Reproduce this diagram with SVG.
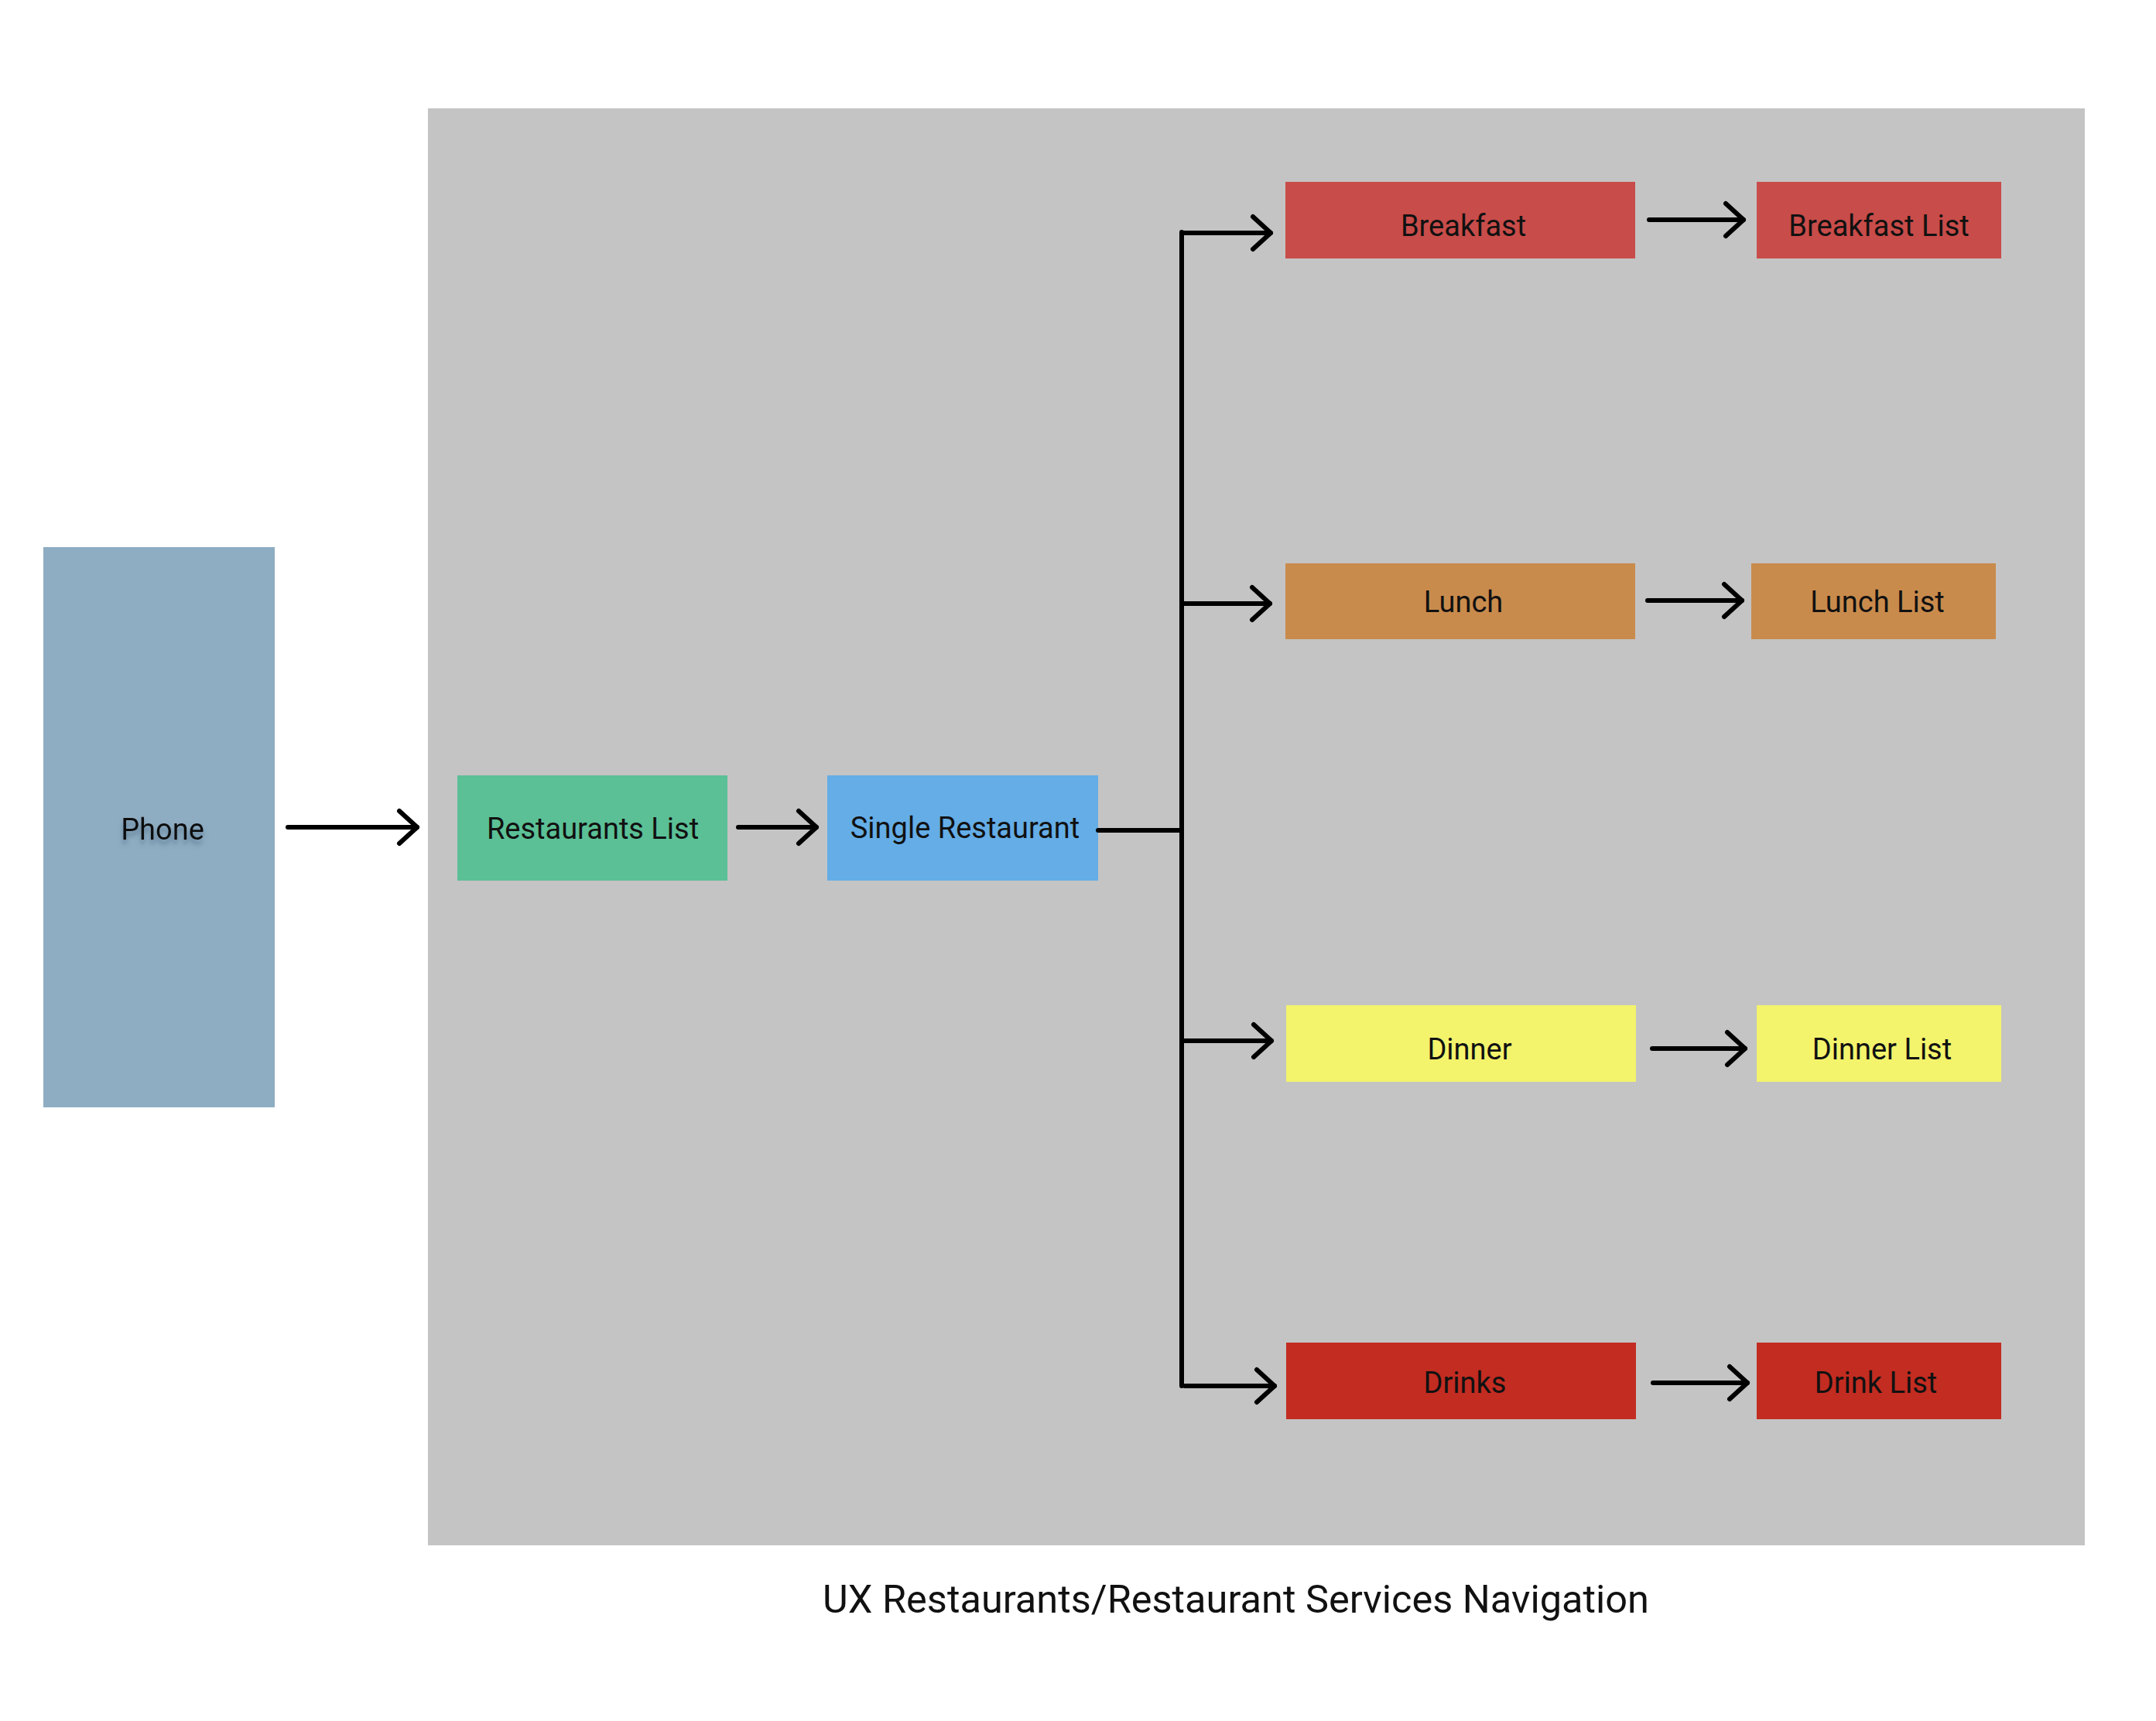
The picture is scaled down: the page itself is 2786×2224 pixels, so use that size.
<svg xmlns="http://www.w3.org/2000/svg" width="2786" height="2224" viewBox="0 0 2786 2224">
<style>
.lbl{font-family:Roboto,"Liberation Sans",sans-serif;font-size:38px;fill:#111;text-anchor:middle}
.title{font-family:Roboto,"Liberation Sans",sans-serif;font-size:50.5px;fill:#111;text-anchor:middle}
.ln{fill:none;stroke:#000;stroke-width:6;stroke-linecap:round;stroke-linejoin:round}
.ar{marker-end:url(#chev)}
</style>
<defs>
<marker id="chev" markerUnits="userSpaceOnUse" markerWidth="60" markerHeight="60" viewBox="-30 -30 60 60" refX="0" refY="0" orient="auto" overflow="visible">
<path d="M-23,-21 L0,0 L-23,21" fill="none" stroke="#000" stroke-width="6" stroke-linecap="round" stroke-linejoin="round"/>
</marker>
<filter id="tsh" x="-20%" y="-20%" width="140%" height="160%">
<feGaussianBlur in="SourceAlpha" stdDeviation="3"/>
<feOffset dx="0" dy="6" result="b"/>
<feFlood flood-color="#3a5a78" flood-opacity="0.6"/>
<feComposite in2="b" operator="in" result="s"/>
<feMerge><feMergeNode in="s"/><feMergeNode in="SourceGraphic"/></feMerge>
</filter>
</defs>
<rect width="2786" height="2224" fill="#ffffff"/>
<g id="panel"><rect x="553" y="140" width="2141" height="1857" fill="#c4c4c4"/></g>
<g id="phone"><rect x="56" y="707" width="299" height="724" fill="#8fadc2"/><text class="lbl" x="210" y="1085" filter="url(#tsh)">Phone</text></g>
<g id="restaurants-list"><rect x="591" y="1002" width="349" height="136" fill="#5bc096"/><text class="lbl" x="766" y="1084">Restaurants List</text></g>
<g id="single-restaurant"><rect x="1069" y="1002" width="350" height="136" fill="#64ade6"/><text class="lbl" x="1247" y="1083">Single Restaurant</text></g>
<g id="breakfast"><rect x="1661" y="235" width="452" height="99" fill="#c84c49"/><text class="lbl" x="1891" y="305">Breakfast</text></g>
<g id="breakfast-list"><rect x="2270" y="235" width="316" height="99" fill="#c84c49"/><text class="lbl" x="2428" y="305">Breakfast List</text></g>
<g id="lunch"><rect x="1661" y="728" width="452" height="98" fill="#c98b4c"/><text class="lbl" x="1891" y="791">Lunch</text></g>
<g id="lunch-list"><rect x="2263" y="728" width="316" height="98" fill="#c98b4c"/><text class="lbl" x="2426" y="791">Lunch List</text></g>
<g id="dinner"><rect x="1662" y="1299" width="452" height="99" fill="#f3f36c"/><text class="lbl" x="1899" y="1369">Dinner</text></g>
<g id="dinner-list"><rect x="2270" y="1299" width="316" height="99" fill="#f3f36c"/><text class="lbl" x="2432" y="1369">Dinner List</text></g>
<g id="drinks"><rect x="1662" y="1735" width="452" height="99" fill="#c22c21"/><text class="lbl" x="1893" y="1800">Drinks</text></g>
<g id="drink-list"><rect x="2270" y="1735" width="316" height="99" fill="#c22c21"/><text class="lbl" x="2424" y="1800">Drink List</text></g>
<g id="connectors">
<path class="ln ar" d="M372,1069 H539"/>
<path class="ln ar" d="M954,1069 H1055"/>
<path class="ln" d="M1419,1073 H1527"/>
<path class="ln" d="M1527,300 V1791" stroke-linecap="butt"/>
<path class="ln ar" d="M1527,301 H1642"/>
<path class="ln ar" d="M1527,780 H1641"/>
<path class="ln ar" d="M1527,1345 H1643"/>
<path class="ln ar" d="M1531,1791 H1647"/>
<path class="ln ar" d="M2131,284 H2253"/>
<path class="ln ar" d="M2129,776 H2251"/>
<path class="ln ar" d="M2135,1355 H2255"/>
<path class="ln ar" d="M2136,1787 H2258"/>
</g>
<g id="caption"><text class="title" x="1597" y="2084">UX Restaurants/Restaurant Services Navigation</text></g>
</svg>
